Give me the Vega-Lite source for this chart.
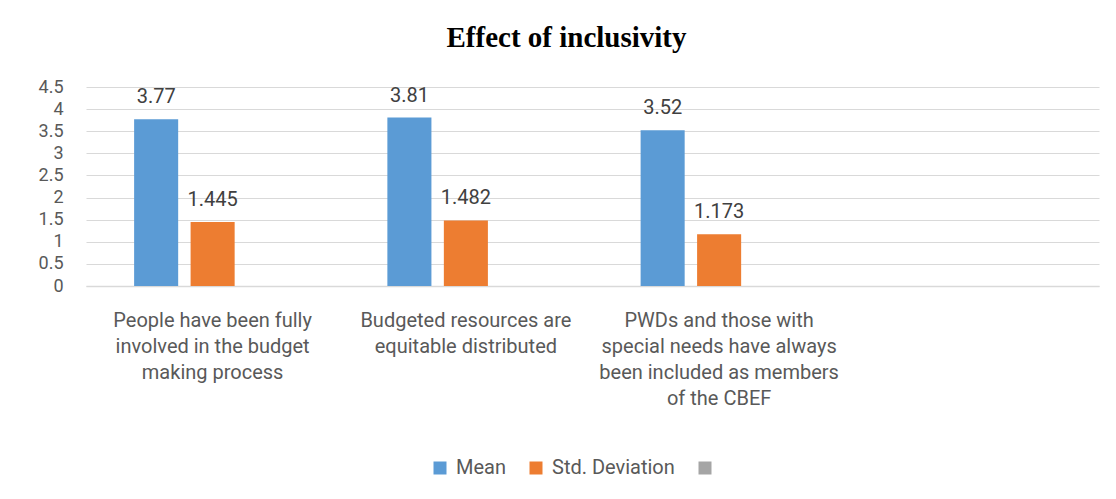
{
  "$schema": "https://vega.github.io/schema/vega-lite/v6.json",
  "autosize": {"type": "none"},
  "width": 1013,
  "height": 199,
  "padding": {"left": 86, "top": 87, "right": 17, "bottom": 213},
  "background": "white",
  "title": {
    "text": "Effect of inclusivity",
    "font": "Liberation Serif",
    "fontSize": 29,
    "fontWeight": "bold",
    "color": "#000000",
    "anchor": "middle",
    "baseline": "alphabetic",
    "offset": 2,
    "dx": -26
  },
  "data": {
    "values": [
      {"category": "People have been fully involved in the budget making process", "series": "Mean", "value": 3.77},
      {"category": "People have been fully involved in the budget making process", "series": "Std. Deviation", "value": 1.445},
      {"category": "Budgeted resources are equitable distributed", "series": "Mean", "value": 3.81},
      {"category": "Budgeted resources are equitable distributed", "series": "Std. Deviation", "value": 1.482},
      {"category": "PWDs and those with special needs have always been included as members of the CBEF", "series": "Mean", "value": 3.52},
      {"category": "PWDs and those with special needs have always been included as members of the CBEF", "series": "Std. Deviation", "value": 1.173}
    ]
  },
  "encoding": {
    "x": {
      "field": "category",
      "type": "nominal",
      "sort": null,
      "scale": {
        "domain": [
          "People have been fully involved in the budget making process",
          "Budgeted resources are equitable distributed",
          "PWDs and those with special needs have always been included as members of the CBEF",
          " "
        ],
        "paddingInner": 0.38,
        "paddingOuter": 0.19
      },
      "axis": {
        "title": null,
        "labelAngle": 0,
        "ticks": false,
        "domain": true,
        "domainColor": "#d9d9d9",
        "domainWidth": 1.5,
        "labelFont": "Roboto",
        "labelFontSize": 20,
        "labelColor": "#595959",
        "labelPadding": 24,
        "labelBaseline": "top",
        "labelLineHeight": 26,
        "labelLimit": 0,
        "labelExpr": "datum.value == 'People have been fully involved in the budget making process' ? ['People have been fully', 'involved in the budget', 'making process'] : datum.value == 'Budgeted resources are equitable distributed' ? ['Budgeted resources are', 'equitable distributed'] : datum.value == 'PWDs and those with special needs have always been included as members of the CBEF' ? ['PWDs and those with', 'special needs have always', 'been included as members', 'of the CBEF'] : ''"
      }
    },
    "xOffset": {
      "field": "series",
      "type": "nominal",
      "scale": {"domain": ["Mean", "Std. Deviation", " "], "paddingInner": 0.22, "paddingOuter": 0}
    },
    "y": {
      "field": "value",
      "type": "quantitative",
      "scale": {"domain": [0, 4.5], "nice": false},
      "axis": {
        "title": null,
        "values": [0, 0.5, 1, 1.5, 2, 2.5, 3, 3.5, 4, 4.5],
        "format": "~g",
        "ticks": false,
        "domain": false,
        "grid": true,
        "gridColor": "#d9d9d9",
        "gridWidth": 1,
        "labelFont": "Roboto",
        "labelFontSize": 18,
        "labelColor": "#595959",
        "labelPadding": 23
      }
    }
  },
  "layer": [
    {
      "mark": {"type": "bar"},
      "encoding": {
        "color": {
          "field": "series",
          "type": "nominal",
          "scale": {"domain": ["Mean", "Std. Deviation", " "], "range": ["#5B9BD5", "#ED7D31", "#A5A5A5"]},
          "legend": {
            "title": null,
            "orient": "none",
            "direction": "horizontal",
            "legendX": 344,
            "legendY": 371,
            "symbolType": "square",
            "symbolSize": 169,
            "symbolStrokeWidth": 0,
            "labelFont": "Roboto",
            "labelFontSize": 20,
            "labelColor": "#595959",
            "labelOffset": 6,
            "columnPadding": 20,
            "labelLimit": 0
          }
        }
      }
    },
    {
      "mark": {"type": "text", "baseline": "alphabetic", "dy": -16, "font": "Roboto", "fontSize": 20, "color": "#404040"},
      "encoding": {
        "text": {"field": "value", "type": "nominal"}
      }
    }
  ],
  "config": {
    "view": {"stroke": null}
  }
}
